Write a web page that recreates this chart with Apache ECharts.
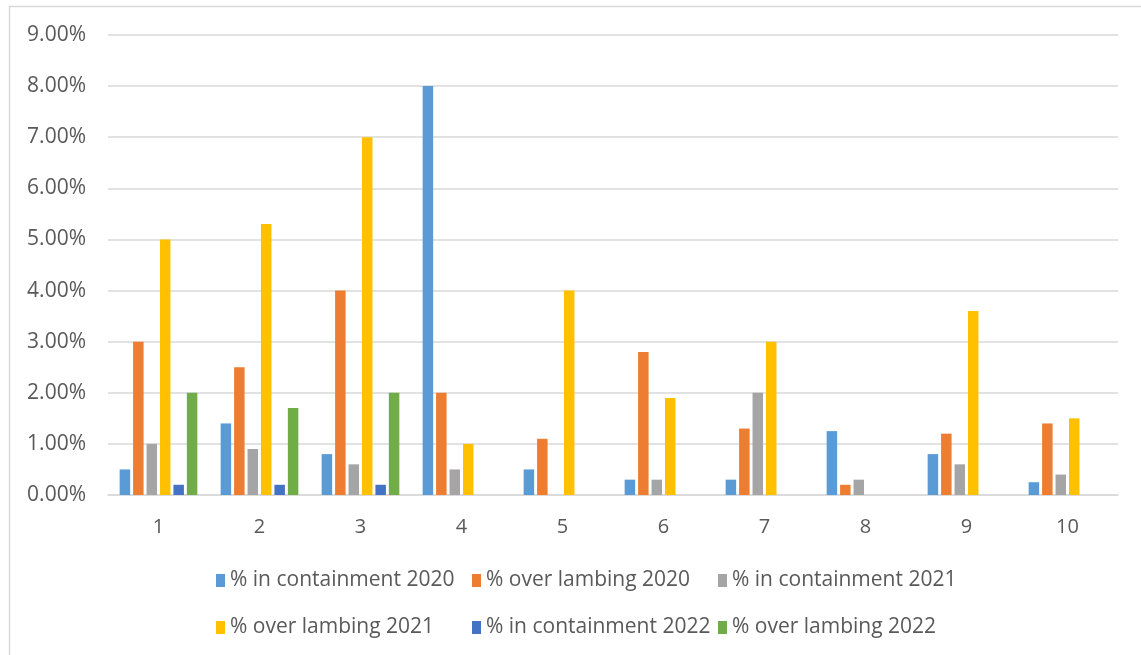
<!DOCTYPE html>
<html>
<head>
    <meta charset="utf-8">
    <title></title>
    <script src="https://cdn.jsdelivr.net/npm/echarts@6/dist/echarts.min.js"></script>
    <style>
        body{
            margin: 0;
        }
        #chart{
            width: 1141px;
            height: 655px;
        }
    </style>
</head>
<body>
<div id="chart"></div>
<script>
    // categories (1..10) and series values, in percent
    var categories = ['1', '2', '3', '4', '5', '6', '7', '8', '9', '10'];
    var contain2020 = [0.5, 1.4, 0.8, 8.0, 0.5, 0.3, 0.3, 1.25, 0.8, 0.25];
    var lambing2020 = [3.0, 2.5, 4.0, 2.0, 1.1, 2.8, 1.3, 0.2, 1.2, 1.4];
    var contain2021 = [1.0, 0.9, 0.6, 0.5, null, 0.3, 2.0, 0.3, 0.6, 0.4];
    var lambing2021 = [5.0, 5.3, 7.0, 1.0, 4.0, 1.9, 3.0, null, 3.6, 1.5];
    var contain2022 = [0.2, 0.2, 0.2, null, null, null, null, null, null, null];
    var lambing2022 = [2.0, 1.7, 2.0, null, null, null, null, null, null, null];

    var names = ['% in containment 2020', '% over lambing 2020', '% in containment 2021',
                 '% over lambing 2021', '% in containment 2022', '% over lambing 2022'];
    var values = [contain2020, lambing2020, contain2021, lambing2021, contain2022, lambing2022];
    var colors = ['#5b9bd5', '#ed7d31', '#a5a5a5', '#ffc000', '#4472c4', '#70ad47'];

    var fontFam = 'Open Sans, sans-serif';
    var txt = {color: '#595959', fontSize: 21, fontFamily: fontFam};

    // legend laid out in 3 columns, 2 rows like the excel one
    function col(left, items) {
        return {
            orient: 'vertical',
            left: left,
            top: 565,
            itemWidth: 9,
            itemHeight: 13,
            itemGap: 26,
            icon: 'rect',
            textStyle: txt,
            data: items
        };
    }

    var series = names.map(function (n, i) {
        return {
            name: n,
            type: 'bar',
            data: values[i],
            barWidth: 10.5,
            barGap: '28%',
            itemStyle: {color: colors[i]}
        };
    });

    var option = {
        animation: false,
        color: colors,
        graphic: [{
            type: 'rect',
            shape: {x: 9.5, y: 6.5, width: 1200, height: 700},
            style: {fill: 'none', stroke: '#d9d9d9', lineWidth: 1.5}
        }],
        grid: {left: 108, right: 23, top: 35, bottom: 160},
        legend: [
            col(211, [names[0], names[3]]),
            col(467, [names[1], names[4]]),
            col(713, [names[2], names[5]])
        ],
        xAxis: {
            type: 'category',
            data: categories,
            axisLine: {lineStyle: {color: '#d9d9d9', width: 1.5}},
            axisTick: {show: false},
            axisLabel: {color: '#595959', fontSize: 20, fontFamily: fontFam, margin: 22}
        },
        yAxis: {
            type: 'value',
            min: 0,
            max: 9,
            interval: 1,
            axisLine: {show: false},
            axisTick: {show: false},
            splitLine: {lineStyle: {color: '#d9d9d9', width: 1.5}},
            axisLabel: {
                color: '#595959', fontSize: 21, fontFamily: fontFam, margin: 22,
                formatter: function (v) { return v.toFixed(2) + '%'; }
            }
        },
        series: series
    };

    var myChart = echarts.init(document.getElementById('chart'));
    myChart.setOption(option);
</script>
</body>
</html>
